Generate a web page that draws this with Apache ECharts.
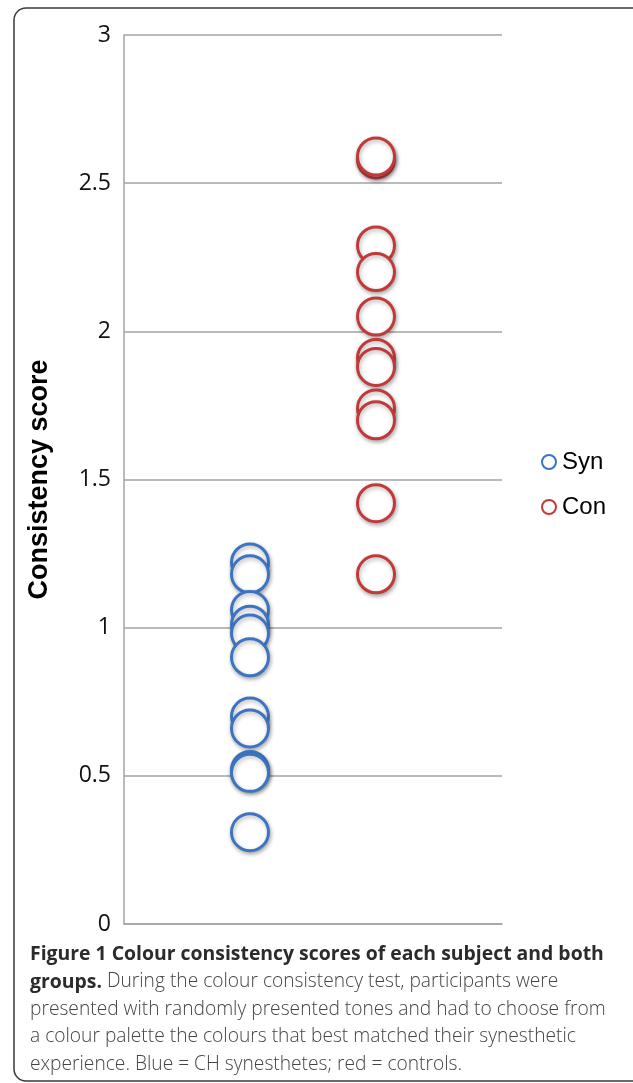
<!DOCTYPE html>
<html>
<head>
<meta charset="utf-8">
<script src="https://cdn.jsdelivr.net/npm/echarts@6/dist/echarts.min.js"></script>
<style>
  html, body { margin: 0; padding: 0; background: #ffffff; }
  #chart { width: 633px; height: 1083px; }
</style>
</head>
<body>
<div id="chart"></div>
<script>
// Group names and their horizontal slot on the hidden x axis
const groups = ['Syn', 'Con'];
const groupX = [1, 2];

// Colour consistency score of each subject
const synScores = [1.22, 1.18, 1.06, 1.01, 0.98, 0.90, 0.70, 0.66, 0.52, 0.51, 0.31];
const conScores = [2.58, 2.59, 2.29, 2.20, 2.05, 1.91, 1.88, 1.74, 1.70, 1.42, 1.18];

// Y axis range and step
const yMin = 0, yMax = 3, yStep = 0.5;

const colors = ['#3c74c1', '#c13a3a'];
const scoreSets = [synScores, conScores];

const chart = echarts.init(document.getElementById('chart'), null, { renderer: 'canvas' });

const series = groups.map((name, i) => ({
  name: name,
  type: 'scatter',
  symbol: 'circle',
  symbolSize: 37,
  data: scoreSets[i].map(v => [groupX[i], v]),
  itemStyle: {
    color: '#ffffff',
    opacity: 1,
    borderColor: colors[i],
    borderWidth: 3,
    shadowBlur: 4,
    shadowOffsetX: 1,
    shadowOffsetY: 2,
    shadowColor: 'rgba(0,0,0,0.3)'
  },
  emphasis: { disabled: true }
}));

const caption =
  '{b|Figure 1 Colour consistency scores of each subject and both}\n' +
  '{b|groups.}{r| During the colour consistency test, participants were}\n' +
  '{r|presented with randomly presented tones and had to choose from}\n' +
  '{r|a colour palette the colours that best matched their synesthetic}\n' +
  '{r|experience. Blue = CH synesthetes; red = controls.}';

chart.setOption({
  animation: false,
  backgroundColor: '#ffffff',
  grid: { left: 124, top: 35, right: 131, bottom: 159 },
  xAxis: {
    type: 'value',
    min: 0,
    max: 3,
    axisLine: { show: true, lineStyle: { color: '#a3a3a3', width: 1.5 } },
    axisTick: { show: false },
    axisLabel: { show: false },
    splitLine: { show: false }
  },
  yAxis: {
    type: 'value',
    min: yMin,
    max: yMax,
    interval: yStep,
    name: 'Consistency score',
    nameLocation: 'middle',
    nameRotate: 90,
    nameGap: 71,
    nameTextStyle: {
      fontFamily: '"Liberation Sans", Arial, sans-serif',
      fontWeight: 'bold',
      fontSize: 27,
      color: '#000000'
    },
    axisLine: { show: true, lineStyle: { color: '#a3a3a3', width: 1.5 } },
    axisTick: { show: false },
    axisLabel: {
      margin: 13,
      fontFamily: '"Open Sans", sans-serif',
      fontSize: 23,
      color: '#111111'
    },
    splitLine: { show: true, lineStyle: { color: '#a3a3a3', width: 1.5 } }
  },
  legend: {
    orient: 'vertical',
    left: 536,
    top: 445,
    itemWidth: 14,
    itemHeight: 14,
    itemGap: 21,
    icon: 'circle',
    data: groups.map((g, i) => ({
      name: g,
      itemStyle: { color: '#ffffff', borderColor: colors[i], borderWidth: 2, shadowBlur: 0, shadowOffsetX: 0, shadowOffsetY: 0 }
    })),
    textStyle: {
      fontFamily: '"Liberation Sans", Arial, sans-serif',
      fontSize: 24,
      color: '#000000',
      padding: [0, 0, 0, 1]
    }
  },
  series: series,
  graphic: [
    {
      type: 'rect',
      silent: true,
      shape: { x: 14, y: 8, width: 640, height: 1073, r: 12 },
      style: { fill: 'none', stroke: '#3a3a3a', lineWidth: 1.5 }
    },
    {
      type: 'text',
      silent: true,
      left: 30,
      top: 945,
      style: {
        text: caption,
        rich: {
          b: { fontFamily: '"Open Sans", sans-serif', fontWeight: 'bold', fontSize: 19.4, lineHeight: 27.5, fill: '#2b2b2b' },
          r: { fontFamily: '"Open Sans", sans-serif', fontWeight: 300, fontSize: 19.2, lineHeight: 27.5, fill: '#444444' }
        }
      }
    }
  ]
});
</script>
</body>
</html>
